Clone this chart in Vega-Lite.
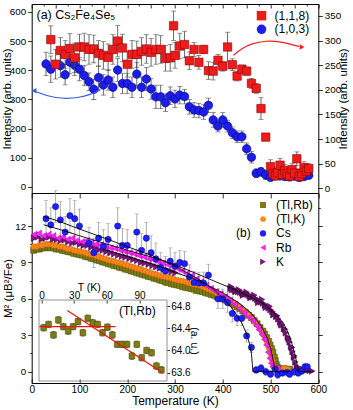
{
"$schema":"https://vega.github.io/schema/vega-lite/v6.json",
"width":286.6,"height":379,
"autosize":{"type":"none"},
"padding":{"left":31.7,"top":4,"right":34.7,"bottom":27},
"background":"white",
"config":{
 "font":"Liberation Sans",
 "view":{"stroke":"#000","strokeWidth":1},
 "axis":{"labelFont":"Liberation Sans","titleFont":"Liberation Sans","labelFontSize":9.8,"titleFontSize":11.5,"titleFontWeight":"normal","labelColor":"#000","titleColor":"#000","tickColor":"#000","domainColor":"#000","grid":false,"labelOverlap":false,"labelFlush":false,"tickWidth":0.8},
 "legend":{"labelFont":"Liberation Sans","titleFont":"Liberation Sans","labelFontSize":12,"titleFontSize":12,"titleFontWeight":"normal","labelColor":"#000","titleColor":"#000","symbolStrokeWidth":0}
},
"datasets":{
 "topBlue":[{"T":30,"v":422,"e":40},{"T":40,"v":404,"e":45},{"T":60,"v":416,"e":40},{"T":70,"v":385,"e":35},{"T":80,"v":428,"e":40},{"T":90,"v":417,"e":35},{"T":100,"v":404,"e":40},{"T":110,"v":382,"e":35},{"T":120,"v":361,"e":30},{"T":130,"v":335,"e":35},{"T":140,"v":375,"e":40},{"T":150,"v":350,"e":35},{"T":160,"v":367,"e":35},{"T":170,"v":342,"e":35},{"T":180,"v":401,"e":40},{"T":190,"v":355,"e":35},{"T":200,"v":355,"e":35},{"T":210,"v":342,"e":35},{"T":220,"v":387,"e":40},{"T":230,"v":342,"e":35},{"T":240,"v":370,"e":40},{"T":250,"v":336,"e":35},{"T":260,"v":309,"e":40},{"T":270,"v":309,"e":40},{"T":280,"v":289,"e":30},{"T":290,"v":313,"e":30},{"T":300,"v":302,"e":30},{"T":310,"v":315,"e":30},{"T":320,"v":310,"e":25},{"T":330,"v":275,"e":25},{"T":340,"v":264,"e":25},{"T":350,"v":262,"e":25},{"T":360,"v":257,"e":25},{"T":370,"v":280,"e":25},{"T":380,"v":230,"e":25},{"T":390,"v":209,"e":20},{"T":400,"v":230,"e":25},{"T":410,"v":209,"e":20},{"T":420,"v":186,"e":20},{"T":430,"v":172,"e":20},{"T":440,"v":172,"e":20},{"T":450,"v":131,"e":20},{"T":460,"v":102,"e":20},{"T":470,"v":47,"e":15},{"T":480,"v":52,"e":15},{"T":490,"v":41,"e":15},{"T":500,"v":33,"e":12},{"T":510,"v":47,"e":12},{"T":520,"v":38,"e":12},{"T":530,"v":36,"e":12},{"T":540,"v":35,"e":12},{"T":550,"v":38,"e":12},{"T":560,"v":33,"e":12},{"T":570,"v":36,"e":12},{"T":580,"v":40,"e":12}],
 "topRed":[{"T":40,"v":302,"e":28},{"T":50,"v":252,"e":30},{"T":60,"v":280,"e":26},{"T":70,"v":272,"e":28},{"T":80,"v":284,"e":30},{"T":90,"v":265,"e":30},{"T":100,"v":287,"e":26},{"T":110,"v":287,"e":28},{"T":120,"v":282,"e":30},{"T":130,"v":283,"e":28},{"T":140,"v":274,"e":26},{"T":150,"v":270,"e":28},{"T":160,"v":266,"e":27},{"T":170,"v":282,"e":30},{"T":180,"v":299,"e":32},{"T":190,"v":285,"e":28},{"T":200,"v":252,"e":26},{"T":210,"v":272,"e":28},{"T":220,"v":272,"e":27},{"T":230,"v":278,"e":28},{"T":240,"v":283,"e":29},{"T":250,"v":276,"e":28},{"T":260,"v":282,"e":30},{"T":270,"v":282,"e":28},{"T":280,"v":264,"e":26},{"T":290,"v":265,"e":27},{"T":297,"v":330,"e":30},{"T":300,"v":270,"e":26},{"T":310,"v":289,"e":26},{"T":320,"v":292,"e":27},{"T":330,"v":259,"e":18},{"T":340,"v":282,"e":14},{"T":350,"v":256,"e":14},{"T":360,"v":282,"e":8},{"T":370,"v":239,"e":18},{"T":380,"v":238,"e":18},{"T":390,"v":260,"e":12},{"T":400,"v":248,"e":10},{"T":410,"v":287,"e":30},{"T":420,"v":251,"e":12},{"T":430,"v":228,"e":10},{"T":440,"v":242,"e":8},{"T":450,"v":238,"e":8},{"T":460,"v":213,"e":10},{"T":470,"v":203,"e":10},{"T":480,"v":162,"e":22},{"T":490,"v":104,"e":6},{"T":500,"v":44,"e":14},{"T":505,"v":30,"e":12},{"T":510,"v":26,"e":10},{"T":515,"v":32,"e":12},{"T":520,"v":47,"e":14},{"T":525,"v":28,"e":10},{"T":530,"v":36,"e":12},{"T":535,"v":30,"e":10},{"T":540,"v":25,"e":10},{"T":545,"v":38,"e":12},{"T":550,"v":31,"e":10},{"T":555,"v":60,"e":14},{"T":560,"v":24,"e":10},{"T":565,"v":30,"e":10},{"T":570,"v":42,"e":12},{"T":575,"v":35,"e":10},{"T":580,"v":40,"e":10}],
 "arrowBlue":[{"T":143,"v":332},{"T":120,"v":315},{"T":100,"v":307},{"T":73,"v":303},{"T":50,"v":306},{"T":30,"v":314},{"T":10,"v":326}],
 "arrowRed":[{"T":422,"v":270},{"T":440,"v":284},{"T":460,"v":294},{"T":490,"v":300},{"T":520,"v":298},{"T":545,"v":292},{"T":560,"v":288}],
 "bot":[
{"s":"(Tl,Rb)","T":4,"v":10.0},{"s":"(Tl,Rb)","T":10,"v":10.1},{"s":"(Tl,Rb)","T":16,"v":10.1},{"s":"(Tl,Rb)","T":22,"v":10.2},{"s":"(Tl,Rb)","T":28,"v":10.2},{"s":"(Tl,Rb)","T":34,"v":10.3},{"s":"(Tl,Rb)","T":40,"v":10.2},{"s":"(Tl,Rb)","T":46,"v":10.2},{"s":"(Tl,Rb)","T":52,"v":10.1},{"s":"(Tl,Rb)","T":58,"v":10.1},{"s":"(Tl,Rb)","T":64,"v":10.0},{"s":"(Tl,Rb)","T":70,"v":9.95},{"s":"(Tl,Rb)","T":76,"v":9.9},{"s":"(Tl,Rb)","T":82,"v":9.85},{"s":"(Tl,Rb)","T":88,"v":9.75},{"s":"(Tl,Rb)","T":94,"v":9.7},{"s":"(Tl,Rb)","T":100,"v":9.65},{"s":"(Tl,Rb)","T":106,"v":9.6},{"s":"(Tl,Rb)","T":112,"v":9.5},{"s":"(Tl,Rb)","T":118,"v":9.45},{"s":"(Tl,Rb)","T":124,"v":9.35},{"s":"(Tl,Rb)","T":130,"v":9.3},{"s":"(Tl,Rb)","T":136,"v":9.2},{"s":"(Tl,Rb)","T":142,"v":9.15},{"s":"(Tl,Rb)","T":148,"v":9.05},{"s":"(Tl,Rb)","T":154,"v":9.0},{"s":"(Tl,Rb)","T":160,"v":8.9},{"s":"(Tl,Rb)","T":166,"v":8.85},{"s":"(Tl,Rb)","T":172,"v":8.75},{"s":"(Tl,Rb)","T":178,"v":8.7},{"s":"(Tl,Rb)","T":184,"v":8.6},{"s":"(Tl,Rb)","T":190,"v":8.55},{"s":"(Tl,Rb)","T":196,"v":8.45},{"s":"(Tl,Rb)","T":202,"v":8.4},{"s":"(Tl,Rb)","T":208,"v":8.3},{"s":"(Tl,Rb)","T":214,"v":8.25},{"s":"(Tl,Rb)","T":220,"v":8.15},{"s":"(Tl,Rb)","T":226,"v":8.1},{"s":"(Tl,Rb)","T":232,"v":8.0},{"s":"(Tl,Rb)","T":238,"v":7.95},{"s":"(Tl,Rb)","T":244,"v":7.85},{"s":"(Tl,Rb)","T":250,"v":7.8},{"s":"(Tl,Rb)","T":256,"v":7.7},{"s":"(Tl,Rb)","T":262,"v":7.65},{"s":"(Tl,Rb)","T":268,"v":7.55},{"s":"(Tl,Rb)","T":274,"v":7.5},{"s":"(Tl,Rb)","T":280,"v":7.4},{"s":"(Tl,Rb)","T":286,"v":7.35},{"s":"(Tl,Rb)","T":292,"v":7.25},{"s":"(Tl,Rb)","T":298,"v":7.2},{"s":"(Tl,Rb)","T":304,"v":7.15},{"s":"(Tl,Rb)","T":310,"v":7.1},{"s":"(Tl,Rb)","T":316,"v":7.0},{"s":"(Tl,Rb)","T":322,"v":6.95},{"s":"(Tl,Rb)","T":328,"v":6.9},{"s":"(Tl,Rb)","T":334,"v":6.85},{"s":"(Tl,Rb)","T":340,"v":6.8},{"s":"(Tl,Rb)","T":346,"v":6.7},{"s":"(Tl,Rb)","T":352,"v":6.65},{"s":"(Tl,Rb)","T":358,"v":6.6},{"s":"(Tl,Rb)","T":364,"v":6.5},{"s":"(Tl,Rb)","T":370,"v":6.45},{"s":"(Tl,Rb)","T":376,"v":6.35},{"s":"(Tl,Rb)","T":382,"v":6.3},{"s":"(Tl,Rb)","T":388,"v":6.2},{"s":"(Tl,Rb)","T":394,"v":6.1},{"s":"(Tl,Rb)","T":400,"v":6.0},{"s":"(Tl,Rb)","T":406,"v":5.9},{"s":"(Tl,Rb)","T":412,"v":5.75},{"s":"(Tl,Rb)","T":418,"v":5.65},{"s":"(Tl,Rb)","T":424,"v":5.5},{"s":"(Tl,Rb)","T":430,"v":5.35},{"s":"(Tl,Rb)","T":436,"v":5.2},{"s":"(Tl,Rb)","T":442,"v":5.0},{"s":"(Tl,Rb)","T":448,"v":4.85},{"s":"(Tl,Rb)","T":454,"v":4.65},{"s":"(Tl,Rb)","T":460,"v":4.45},{"s":"(Tl,Rb)","T":466,"v":4.2},{"s":"(Tl,Rb)","T":472,"v":3.95},{"s":"(Tl,Rb)","T":478,"v":3.65},{"s":"(Tl,Rb)","T":484,"v":3.35},{"s":"(Tl,Rb)","T":488,"v":3.1},{"s":"(Tl,Rb)","T":492,"v":2.8},{"s":"(Tl,Rb)","T":496,"v":2.5},{"s":"(Tl,Rb)","T":499,"v":2.2},{"s":"(Tl,Rb)","T":502,"v":1.9},{"s":"(Tl,Rb)","T":505,"v":1.6},{"s":"(Tl,Rb)","T":508,"v":1.2},{"s":"(Tl,Rb)","T":510,"v":0.9},{"s":"(Tl,Rb)","T":512,"v":0.6},{"s":"(Tl,Rb)","T":514,"v":0.4},{"s":"(Tl,Rb)","T":517,"v":0.25},{"s":"(Tl,Rb)","T":522,"v":0.2},{"s":"(Tl,Rb)","T":528,"v":0.25},{"s":"(Tl,Rb)","T":534,"v":0.2},{"s":"(Tl,Rb)","T":540,"v":0.2},
{"s":"(Tl,K)","T":4,"v":10.3},{"s":"(Tl,K)","T":10,"v":10.3},{"s":"(Tl,K)","T":16,"v":10.4},{"s":"(Tl,K)","T":22,"v":10.4},{"s":"(Tl,K)","T":28,"v":10.5},{"s":"(Tl,K)","T":34,"v":10.5},{"s":"(Tl,K)","T":40,"v":10.5},{"s":"(Tl,K)","T":46,"v":10.4},{"s":"(Tl,K)","T":52,"v":10.4},{"s":"(Tl,K)","T":58,"v":10.3},{"s":"(Tl,K)","T":64,"v":10.3},{"s":"(Tl,K)","T":70,"v":10.2},{"s":"(Tl,K)","T":76,"v":10.1},{"s":"(Tl,K)","T":82,"v":10.1},{"s":"(Tl,K)","T":88,"v":10.0},{"s":"(Tl,K)","T":94,"v":9.95},{"s":"(Tl,K)","T":100,"v":9.9},{"s":"(Tl,K)","T":106,"v":9.85},{"s":"(Tl,K)","T":112,"v":9.8},{"s":"(Tl,K)","T":118,"v":9.7},{"s":"(Tl,K)","T":124,"v":9.65},{"s":"(Tl,K)","T":130,"v":9.6},{"s":"(Tl,K)","T":136,"v":9.5},{"s":"(Tl,K)","T":142,"v":9.45},{"s":"(Tl,K)","T":148,"v":9.35},{"s":"(Tl,K)","T":154,"v":9.3},{"s":"(Tl,K)","T":160,"v":9.2},{"s":"(Tl,K)","T":166,"v":9.15},{"s":"(Tl,K)","T":172,"v":9.1},{"s":"(Tl,K)","T":178,"v":9.0},{"s":"(Tl,K)","T":184,"v":8.95},{"s":"(Tl,K)","T":190,"v":8.9},{"s":"(Tl,K)","T":196,"v":8.8},{"s":"(Tl,K)","T":202,"v":8.75},{"s":"(Tl,K)","T":208,"v":8.65},{"s":"(Tl,K)","T":214,"v":8.6},{"s":"(Tl,K)","T":220,"v":8.5},{"s":"(Tl,K)","T":226,"v":8.45},{"s":"(Tl,K)","T":232,"v":8.35},{"s":"(Tl,K)","T":238,"v":8.3},{"s":"(Tl,K)","T":244,"v":8.2},{"s":"(Tl,K)","T":250,"v":8.1},{"s":"(Tl,K)","T":256,"v":8.05},{"s":"(Tl,K)","T":262,"v":8.0},{"s":"(Tl,K)","T":268,"v":7.9},{"s":"(Tl,K)","T":274,"v":7.85},{"s":"(Tl,K)","T":280,"v":7.8},{"s":"(Tl,K)","T":286,"v":7.75},{"s":"(Tl,K)","T":292,"v":7.7},{"s":"(Tl,K)","T":298,"v":7.6},{"s":"(Tl,K)","T":304,"v":7.55},{"s":"(Tl,K)","T":310,"v":7.5},{"s":"(Tl,K)","T":316,"v":7.45},{"s":"(Tl,K)","T":322,"v":7.4},{"s":"(Tl,K)","T":328,"v":7.3},{"s":"(Tl,K)","T":334,"v":7.25},{"s":"(Tl,K)","T":340,"v":7.2},{"s":"(Tl,K)","T":346,"v":7.15},{"s":"(Tl,K)","T":352,"v":7.1},{"s":"(Tl,K)","T":358,"v":7.0},{"s":"(Tl,K)","T":364,"v":6.9},{"s":"(Tl,K)","T":370,"v":6.8},{"s":"(Tl,K)","T":376,"v":6.7},{"s":"(Tl,K)","T":382,"v":6.6},{"s":"(Tl,K)","T":388,"v":6.45},{"s":"(Tl,K)","T":394,"v":6.35},{"s":"(Tl,K)","T":400,"v":6.2},{"s":"(Tl,K)","T":406,"v":6.1},{"s":"(Tl,K)","T":412,"v":5.95},{"s":"(Tl,K)","T":418,"v":5.8},{"s":"(Tl,K)","T":424,"v":5.65},{"s":"(Tl,K)","T":430,"v":5.5},{"s":"(Tl,K)","T":436,"v":5.3},{"s":"(Tl,K)","T":442,"v":5.1},{"s":"(Tl,K)","T":448,"v":4.9},{"s":"(Tl,K)","T":454,"v":4.65},{"s":"(Tl,K)","T":460,"v":4.4},{"s":"(Tl,K)","T":466,"v":4.2},{"s":"(Tl,K)","T":472,"v":3.9},{"s":"(Tl,K)","T":478,"v":3.55},{"s":"(Tl,K)","T":482,"v":3.3},{"s":"(Tl,K)","T":486,"v":3.0},{"s":"(Tl,K)","T":490,"v":2.7},{"s":"(Tl,K)","T":493,"v":2.4},{"s":"(Tl,K)","T":496,"v":2.0},{"s":"(Tl,K)","T":498,"v":1.7},{"s":"(Tl,K)","T":500,"v":1.5},{"s":"(Tl,K)","T":502,"v":1.2},{"s":"(Tl,K)","T":504,"v":0.9},{"s":"(Tl,K)","T":506,"v":0.5},{"s":"(Tl,K)","T":508,"v":0.3},{"s":"(Tl,K)","T":512,"v":0.2},{"s":"(Tl,K)","T":518,"v":0.25},{"s":"(Tl,K)","T":524,"v":0.2},{"s":"(Tl,K)","T":530,"v":0.3},{"s":"(Tl,K)","T":536,"v":0.2},
{"s":"K","T":5,"v":11.0},{"s":"K","T":13,"v":11.1},{"s":"K","T":21,"v":10.9},{"s":"K","T":29,"v":11.0},{"s":"K","T":37,"v":11.1},{"s":"K","T":45,"v":10.9},{"s":"K","T":53,"v":10.9},{"s":"K","T":61,"v":10.8},{"s":"K","T":69,"v":10.85},{"s":"K","T":77,"v":10.7},{"s":"K","T":85,"v":10.6},{"s":"K","T":93,"v":10.65},{"s":"K","T":101,"v":10.5},{"s":"K","T":109,"v":10.4},{"s":"K","T":117,"v":10.4},{"s":"K","T":125,"v":10.25},{"s":"K","T":133,"v":10.2},{"s":"K","T":141,"v":10.05},{"s":"K","T":149,"v":10.0},{"s":"K","T":157,"v":9.9},{"s":"K","T":165,"v":9.8},{"s":"K","T":173,"v":9.7},{"s":"K","T":181,"v":9.6},{"s":"K","T":189,"v":9.5},{"s":"K","T":197,"v":9.45},{"s":"K","T":205,"v":9.35},{"s":"K","T":213,"v":9.25},{"s":"K","T":221,"v":9.15},{"s":"K","T":229,"v":9.0},{"s":"K","T":237,"v":8.95},{"s":"K","T":245,"v":8.85},{"s":"K","T":253,"v":8.75},{"s":"K","T":261,"v":8.65},{"s":"K","T":269,"v":8.55},{"s":"K","T":277,"v":8.45},{"s":"K","T":285,"v":8.35},{"s":"K","T":293,"v":8.25},{"s":"K","T":301,"v":8.15},{"s":"K","T":416,"v":6.85},{"s":"K","T":418,"v":7.0},{"s":"K","T":420,"v":6.75},{"s":"K","T":424,"v":6.8},{"s":"K","T":426,"v":6.6},{"s":"K","T":428,"v":6.65},{"s":"K","T":432,"v":6.6},{"s":"K","T":434,"v":6.75},{"s":"K","T":436,"v":6.55},{"s":"K","T":440,"v":6.5},{"s":"K","T":442,"v":6.3},{"s":"K","T":444,"v":6.45},{"s":"K","T":448,"v":6.4},{"s":"K","T":450,"v":6.55},{"s":"K","T":452,"v":6.35},{"s":"K","T":456,"v":6.25},{"s":"K","T":458,"v":6.1},{"s":"K","T":460,"v":6.2},{"s":"K","T":464,"v":6.15},{"s":"K","T":466,"v":6.3},{"s":"K","T":468,"v":6.05},{"s":"K","T":472,"v":5.95},{"s":"K","T":474,"v":5.7},{"s":"K","T":476,"v":5.85},{"s":"K","T":480,"v":5.75},{"s":"K","T":482,"v":5.95},{"s":"K","T":484,"v":5.65},{"s":"K","T":488,"v":5.5},{"s":"K","T":490,"v":5.3},{"s":"K","T":492,"v":5.4},{"s":"K","T":496,"v":5.25},{"s":"K","T":498,"v":5.4},{"s":"K","T":500,"v":5.1},{"s":"K","T":504,"v":4.95},{"s":"K","T":506,"v":4.7},{"s":"K","T":508,"v":4.75},{"s":"K","T":512,"v":4.55},{"s":"K","T":514,"v":4.6},{"s":"K","T":516,"v":4.35},{"s":"K","T":520,"v":4.1},{"s":"K","T":522,"v":3.9},{"s":"K","T":524,"v":3.85},{"s":"K","T":528,"v":3.55},{"s":"K","T":530,"v":3.5},{"s":"K","T":532,"v":3.2},{"s":"K","T":536,"v":2.85},{"s":"K","T":538,"v":2.7},{"s":"K","T":540,"v":2.45},{"s":"K","T":543,"v":2.05},{"s":"K","T":545,"v":2.0},{"s":"K","T":546,"v":1.65},{"s":"K","T":549,"v":1.2},{"s":"K","T":550,"v":1.3},{"s":"K","T":552,"v":0.8},{"s":"K","T":555,"v":0.45},{"s":"K","T":558,"v":0.25},{"s":"K","T":562,"v":0.15},{"s":"K","T":567,"v":0.2},{"s":"K","T":572,"v":0.1},{"s":"K","T":577,"v":0.15},{"s":"K","T":582,"v":0.1},{"s":"K","T":587,"v":0.05},
{"s":"Rb","T":5,"v":11.3},{"s":"Rb","T":15,"v":11.4},{"s":"Rb","T":25,"v":11.2},{"s":"Rb","T":35,"v":11.3},{"s":"Rb","T":45,"v":11.2},{"s":"Rb","T":55,"v":11.0},{"s":"Rb","T":65,"v":11.1},{"s":"Rb","T":75,"v":10.9},{"s":"Rb","T":85,"v":11.0},{"s":"Rb","T":95,"v":10.8},{"s":"Rb","T":105,"v":10.7},{"s":"Rb","T":115,"v":10.8},{"s":"Rb","T":125,"v":10.6},{"s":"Rb","T":135,"v":10.5},{"s":"Rb","T":145,"v":10.45},{"s":"Rb","T":155,"v":10.3},{"s":"Rb","T":165,"v":10.2},{"s":"Rb","T":175,"v":10.15},{"s":"Rb","T":185,"v":10.0},{"s":"Rb","T":195,"v":9.9},{"s":"Rb","T":205,"v":9.8},{"s":"Rb","T":215,"v":9.7},{"s":"Rb","T":225,"v":9.55},{"s":"Rb","T":235,"v":9.45},{"s":"Rb","T":245,"v":9.3},{"s":"Rb","T":255,"v":9.2},{"s":"Rb","T":265,"v":9.05},{"s":"Rb","T":275,"v":8.95},{"s":"Rb","T":285,"v":8.8},{"s":"Rb","T":295,"v":8.65},{"s":"Rb","T":305,"v":8.5},{"s":"Rb","T":315,"v":8.3},{"s":"Rb","T":325,"v":8.1},{"s":"Rb","T":335,"v":7.9},{"s":"Rb","T":345,"v":7.65},{"s":"Rb","T":355,"v":7.4},{"s":"Rb","T":365,"v":7.1},{"s":"Rb","T":375,"v":6.85},{"s":"Rb","T":385,"v":6.6},{"s":"Rb","T":395,"v":6.4},{"s":"Rb","T":405,"v":6.15},{"s":"Rb","T":415,"v":5.9},{"s":"Rb","T":425,"v":5.55},{"s":"Rb","T":435,"v":5.2},{"s":"Rb","T":445,"v":4.85},{"s":"Rb","T":455,"v":4.5},{"s":"Rb","T":463,"v":4.2},{"s":"Rb","T":470,"v":3.8},{"s":"Rb","T":476,"v":3.45},{"s":"Rb","T":482,"v":3.05},{"s":"Rb","T":487,"v":2.65},{"s":"Rb","T":491,"v":2.2},{"s":"Rb","T":495,"v":1.6},{"s":"Rb","T":498,"v":1.1},{"s":"Rb","T":501,"v":0.7},{"s":"Rb","T":504,"v":0.4},{"s":"Rb","T":508,"v":0.25},{"s":"Rb","T":515,"v":0.2},
{"s":"Cs","T":30,"v":12.6,"e":1.5},{"s":"Cs","T":40,"v":12.1,"e":1.4},{"s":"Cs","T":50,"v":13.6,"e":1.3},{"s":"Cs","T":60,"v":12.5,"e":1.5},{"s":"Cs","T":70,"v":11.5,"e":1.3},{"s":"Cs","T":80,"v":12.85,"e":1.4},{"s":"Cs","T":90,"v":12.6,"e":1.5},{"s":"Cs","T":100,"v":12.0,"e":1.4},{"s":"Cs","T":120,"v":10.6,"e":1.3},{"s":"Cs","T":130,"v":9.8,"e":1.2},{"s":"Cs","T":140,"v":11.0,"e":1.3},{"s":"Cs","T":150,"v":10.3,"e":1.4},{"s":"Cs","T":160,"v":10.9,"e":1.3},{"s":"Cs","T":180,"v":12.0,"e":1.5},{"s":"Cs","T":190,"v":10.4,"e":1.4},{"s":"Cs","T":200,"v":10.4,"e":1.3},{"s":"Cs","T":220,"v":11.5,"e":1.5},{"s":"Cs","T":230,"v":10.0,"e":1.4},{"s":"Cs","T":240,"v":11.0,"e":1.3},{"s":"Cs","T":250,"v":9.8,"e":1.4},{"s":"Cs","T":260,"v":9.3,"e":1.3},{"s":"Cs","T":270,"v":8.6,"e":1.2},{"s":"Cs","T":280,"v":8.3,"e":1.2},{"s":"Cs","T":290,"v":9.1,"e":1.1},{"s":"Cs","T":300,"v":8.7,"e":1.1},{"s":"Cs","T":310,"v":9.0,"e":1.0},{"s":"Cs","T":320,"v":8.9,"e":1.0},{"s":"Cs","T":330,"v":7.8,"e":1.0},{"s":"Cs","T":340,"v":7.35,"e":0.9},{"s":"Cs","T":350,"v":7.3,"e":0.9},{"s":"Cs","T":360,"v":7.3,"e":0.9},{"s":"Cs","T":370,"v":7.95,"e":0.9},{"s":"Cs","T":390,"v":6.0,"e":0.8},{"s":"Cs","T":400,"v":6.0,"e":0.8},{"s":"Cs","T":410,"v":5.7,"e":0.8},{"s":"Cs","T":420,"v":4.8,"e":0.7},{"s":"Cs","T":430,"v":4.4,"e":0.6},{"s":"Cs","T":440,"v":4.4,"e":0.6},{"s":"Cs","T":450,"v":2.95,"e":0.5},{"s":"Cs","T":460,"v":2.0,"e":0.4},{"s":"Cs","T":470,"v":0.15,"e":0.3},{"s":"Cs","T":480,"v":0.3,"e":0.3},{"s":"Cs","T":490,"v":0.0,"e":0.3},{"s":"Cs","T":500,"v":-0.2,"e":0.3},{"s":"Cs","T":510,"v":0.2,"e":0.3},{"s":"Cs","T":515,"v":-0.25,"e":0.3},{"s":"Cs","T":525,"v":-0.1,"e":0.3},{"s":"Cs","T":535,"v":-0.05,"e":0.3},{"s":"Cs","T":540,"v":-0.2,"e":0.3},{"s":"Cs","T":550,"v":0.0,"e":0.3},{"s":"Cs","T":558,"v":-0.1,"e":0.3},{"s":"Cs","T":565,"v":0.05,"e":0.3},{"s":"Cs","T":572,"v":0.4,"e":0.3},{"s":"Cs","T":577,"v":0.4,"e":0.3}
 ],
 "fits":[
{"f":"Cs","T":25,"v":12.8},{"f":"Cs","T":60,"v":12.35},{"f":"Cs","T":100,"v":11.75},{"f":"Cs","T":160,"v":10.9},{"f":"Cs","T":200,"v":10.3},{"f":"Cs","T":250,"v":9.6},{"f":"Cs","T":300,"v":8.7},{"f":"Cs","T":350,"v":7.6},{"f":"Cs","T":380,"v":6.8},{"f":"Cs","T":400,"v":6.1},{"f":"Cs","T":420,"v":5.2},{"f":"Cs","T":440,"v":4.0},{"f":"Cs","T":450,"v":3.1},{"f":"Cs","T":456,"v":2.3},{"f":"Cs","T":460,"v":1.5},{"f":"Cs","T":462,"v":0.6},{"f":"Cs","T":463,"v":0.0},{"f":"Cs","T":505,"v":0.0},
{"f":"K","T":25,"v":12.1},{"f":"K","T":60,"v":11.7},{"f":"K","T":100,"v":11.2},{"f":"K","T":150,"v":10.6},{"f":"K","T":200,"v":10.0},{"f":"K","T":250,"v":9.45},{"f":"K","T":300,"v":8.8},{"f":"K","T":350,"v":8.0},{"f":"K","T":395,"v":7.25},{"f":"K","T":420,"v":6.85},{"f":"K","T":450,"v":6.3},{"f":"K","T":485,"v":5.6},{"f":"K","T":510,"v":4.75},{"f":"K","T":527,"v":4.0},{"f":"K","T":537,"v":3.2},{"f":"K","T":544,"v":2.4},{"f":"K","T":550,"v":1.6},{"f":"K","T":554,"v":0.9},{"f":"K","T":557,"v":0.3},{"f":"K","T":558,"v":0.0},{"f":"K","T":590,"v":0.0},
{"f":"Rb","T":150,"v":10.1},{"f":"Rb","T":200,"v":9.5},{"f":"Rb","T":250,"v":8.9},{"f":"Rb","T":300,"v":8.2},{"f":"Rb","T":345,"v":7.55},{"f":"Rb","T":400,"v":6.5},{"f":"Rb","T":436,"v":5.6},{"f":"Rb","T":460,"v":4.8},{"f":"Rb","T":480,"v":3.8},{"f":"Rb","T":493,"v":2.8},{"f":"Rb","T":501,"v":1.8},{"f":"Rb","T":506,"v":0.9},{"f":"Rb","T":508,"v":0.3},{"f":"Rb","T":509,"v":0.0},{"f":"Rb","T":540,"v":0.0}
 ],
 "inset":[{"T":2,"v":64.41,"e":0.06},{"T":6.5,"v":64.47,"e":0.06},{"T":11,"v":64.28,"e":0.06},{"T":15.5,"v":64.55,"e":0.06},{"T":20,"v":64.43,"e":0.06},{"T":24.5,"v":64.35,"e":0.06},{"T":29,"v":64.43,"e":0.06},{"T":33.5,"v":64.52,"e":0.06},{"T":38,"v":64.32,"e":0.06},{"T":42.5,"v":64.58,"e":0.06},{"T":47,"v":64.50,"e":0.06},{"T":51.5,"v":64.47,"e":0.06},{"T":56,"v":64.32,"e":0.06},{"T":60.5,"v":64.42,"e":0.06},{"T":65,"v":64.28,"e":0.06},{"T":69.5,"v":64.11,"e":0.06},{"T":74,"v":64.11,"e":0.06},{"T":78.5,"v":64.11,"e":0.06},{"T":83,"v":63.90,"e":0.06},{"T":87.5,"v":64.11,"e":0.06},{"T":92,"v":63.87,"e":0.06},{"T":96.5,"v":64.00,"e":0.06},{"T":101,"v":63.96,"e":0.06},{"T":105.5,"v":63.72,"e":0.06},{"T":110,"v":63.65,"e":0.06}],
 "insetLines":[{"l":"h","T":-2,"v":64.43},{"l":"h","T":68,"v":64.43},{"l":"d","T":23.7,"v":64.72},{"l":"d","T":111.9,"v":63.59}]
},
"layer":[
 {"layer":[
  {"layer":[
   {"data":{"name":"topBlue"},"mark":{"type":"errorbar","ticks":{"size":5},"color":"#444","thickness":0.8},
    "encoding":{
     "x":{"field":"T","type":"quantitative","scale":{"domain":[0,600],"nice":false,"zero":false},
      "axis":{"orient":"bottom","offset":-190,"values":[0,25,50,75,100,125,150,175,200,225,250,275,300,325,350,375,400,425,450,475,500,525,550,575,600],"labels":false,"title":null,"domain":true,"tickSize":{"condition":{"test":"datum.value % 50 === 0","value":5},"value":3}}},
     "y":{"field":"v","type":"quantitative","scale":{"domain":[-20.6,627.4],"range":[189,0],"nice":false,"zero":false},
      "axis":{"orient":"left","values":[0,50,100,150,200,250,300,350,400,450,500,550,600],"labelExpr":"datum.value % 100 === 0 ? datum.label : ''","tickSize":{"condition":{"test":"datum.value % 100 === 0","value":4},"value":2},"labelPadding":2,"domain":false,"title":"Intensity (arb. units)","titleX":-24,"titleBaseline":"middle"}},
     "yError":{"field":"e"}}},
   {"data":{"name":"topBlue"},"mark":{"type":"point","filled":true,"size":72,"opacity":1,"stroke":"#00008a","strokeWidth":0.6},
    "encoding":{"x":{"field":"T","type":"quantitative"},"y":{"field":"v","type":"quantitative"},
     "color":{"datum":"(1,0,3)","scale":{"domain":["(1,1,8)","(1,0,3)"],"range":["#ee1b1b","#1d1de8"]},"legend":{"orient":"none","legendX":223.8,"legendY":5.7,"title":null,"symbolSize":90,"rowPadding":1.6,"labelOffset":7}},
     "shape":{"datum":"(1,0,3)","scale":{"domain":["(1,1,8)","(1,0,3)"],"range":["square","circle"]},"legend":{"orient":"none","legendX":223.8,"legendY":5.7,"title":null,"symbolSize":90,"rowPadding":1.6,"labelOffset":7}}}},
   {"data":{"name":"arrowBlue"},"mark":{"type":"line","interpolate":"basis","color":"#3b5ee6","strokeWidth":1.2},
    "encoding":{"x":{"field":"T","type":"quantitative"},"y":{"field":"v","type":"quantitative"}}},
   {"data":{"values":[{}]},"mark":{"type":"point","shape":"triangle-left","filled":true,"size":30,"color":"#3b5ee6","opacity":1},
    "encoding":{"x":{"datum":5},"y":{"datum":330}}},
   {"data":{"values":[{}]},"mark":{"type":"text","text":"(a)  Cs₂Fe₄Se₅","align":"left","baseline":"middle","fontSize":12.5,"font":"Liberation Sans","color":"#000"},
    "encoding":{"x":{"datum":10},"y":{"datum":588}}}
  ]},
  {"layer":[
   {"data":{"name":"topRed"},"mark":{"type":"errorbar","ticks":{"size":5},"color":"#444","thickness":0.8},
    "encoding":{"x":{"field":"T","type":"quantitative"},
     "y":{"field":"v","type":"quantitative","scale":{"domain":[-9.5,374.3],"range":[189,0],"nice":false,"zero":false},
      "axis":{"orient":"right","values":[0,25,50,75,100,125,150,175,200,225,250,275,300,325,350],"labelExpr":"datum.value % 50 === 0 ? datum.label : ''","tickSize":{"condition":{"test":"datum.value % 50 === 0","value":4},"value":2},"labelPadding":2,"domain":false,"title":"Intensity (arb. units)","titleAngle":270,"titleX":25,"titleBaseline":"middle"}},
     "yError":{"field":"e"}}},
   {"data":{"name":"topRed"},"mark":{"type":"point","filled":true,"size":70,"opacity":1,"stroke":"#900000","strokeWidth":0.6},
    "encoding":{"x":{"field":"T","type":"quantitative"},"y":{"field":"v","type":"quantitative"},
     "color":{"datum":"(1,1,8)","scale":{"domain":["(1,1,8)","(1,0,3)"],"range":["#ee1b1b","#1d1de8"]},"legend":{"orient":"none","legendX":223.8,"legendY":5.7,"title":null,"symbolSize":90,"rowPadding":1.6,"labelOffset":7}},
     "shape":{"datum":"(1,1,8)","scale":{"domain":["(1,1,8)","(1,0,3)"],"range":["square","circle"]},"legend":{"orient":"none","legendX":223.8,"legendY":5.7,"title":null,"symbolSize":90,"rowPadding":1.6,"labelOffset":7}}}},
   {"data":{"name":"arrowRed"},"mark":{"type":"line","interpolate":"basis","color":"#ee2020","strokeWidth":1.2},
    "encoding":{"x":{"field":"T","type":"quantitative"},"y":{"field":"v","type":"quantitative"}}},
   {"data":{"values":[{}]},"mark":{"type":"point","shape":"triangle-right","filled":true,"size":30,"color":"#ee2020","opacity":1},
    "encoding":{"x":{"datum":566},"y":{"datum":287}}}
  ]}
 ],
 "resolve":{"scale":{"y":"independent"}}},
 {"data":{"name":"bot"},
  "layer":[
   {"transform":[{"filter":"datum.s === 'Cs'"}],"mark":{"type":"errorbar","ticks":{"size":4},"color":"#8a8a8a","thickness":0.7},
    "encoding":{
     "x":{"field":"T","type":"quantitative","scale":{"domain":[0,600],"nice":false,"zero":false},
      "axis":{"orient":"bottom","values":[0,25,50,75,100,125,150,175,200,225,250,275,300,325,350,375,400,425,450,475,500,525,550,575,600],"labelExpr":"datum.value % 50 === 0 ? datum.label : ''","tickSize":{"condition":{"test":"datum.value % 50 === 0","value":-4},"value":-2},"labelPadding":5,"labelFontSize":10,"domain":false,"title":"Temperature (K)","titleFontSize":12,"titlePadding":1}},
     "y":{"field":"v","type":"quantitative","scale":{"domain":[-0.93,14.72],"range":[379,189],"nice":false,"zero":false},
      "axis":{"orient":"left","values":[0,1.5,3,4.5,6,7.5,9,10.5,12,13.5],"labelExpr":"datum.value % 3 === 0 ? datum.label : ''","tickSize":{"condition":{"test":"datum.value % 3 === 0","value":4},"value":2},"labelPadding":2,"domain":false,"title":"M² (μB²/Fe)","titleX":-23,"titleBaseline":"middle"}},
     "yError":{"field":"e"}}},
   {"mark":{"type":"point","filled":true,"opacity":1,"strokeWidth":0.5},
    "encoding":{"x":{"field":"T","type":"quantitative"},"y":{"field":"v","type":"quantitative"},
     "color":{"field":"s","type":"nominal","scale":{"domain":["(Tl,Rb)","(Tl,K)","Cs","Rb","K"],"range":["#7d7d12","#ff8a1c","#1f1fff","#ff22ff","#7b157b"]},"legend":{"orient":"none","legendX":204.3,"legendY":195,"title":"(b)","titleOrient":"left","titlePadding":6,"symbolSize":90,"rowPadding":2.2,"labelOffset":7}},
     "shape":{"field":"s","type":"nominal","scale":{"domain":["(Tl,Rb)","(Tl,K)","Cs","Rb","K"],"range":["square","M-1,0L-0.5,-0.87L0.5,-0.87L1,0L0.5,0.87L-0.5,0.87Z","circle","triangle-left","triangle-right"]},"legend":{"orient":"none","legendX":204.3,"legendY":195,"title":"(b)","titleOrient":"left","titlePadding":6,"symbolSize":90,"rowPadding":2.2,"labelOffset":7}},
     "stroke":{"field":"s","type":"nominal","scale":{"domain":["(Tl,Rb)","(Tl,K)","Cs","Rb","K"],"range":["#45450a","#c25a00","#00008a","#b000b0","#3f003f"]},"legend":null},
     "size":{"field":"s","type":"nominal","scale":{"domain":["(Tl,Rb)","(Tl,K)","Cs","Rb","K"],"range":[36,42,56,48,48]},"legend":null}}},
   {"data":{"name":"fits"},"mark":{"type":"line","color":"#000","strokeWidth":0.9},
    "encoding":{"x":{"field":"T","type":"quantitative"},"y":{"field":"v","type":"quantitative"},"detail":{"field":"f"}}}
  ]},
 {"layer":[
   {"data":{"name":"inset"},"mark":{"type":"errorbar","ticks":{"size":4},"color":"#222","thickness":0.7},
    "encoding":{
     "x":{"field":"T","type":"quantitative","scale":{"domain":[-2.3,115.2],"range":[7.3,135.3],"nice":false,"zero":false},
      "axis":{"orient":"top","offset":-296,"values":[0,30,60,90],"tickSize":-3,"labelPadding":3,"domain":false,"labelFontSize":10,"title":"T (K)","titleFontSize":10.5,"titleX":57,"titleY":-13,"titleBaseline":"middle"}},
     "y":{"field":"v","type":"quantitative","scale":{"domain":[63.45,64.91],"range":[377,296],"nice":false,"zero":false},
      "axis":{"orient":"right","offset":-151.6,"values":[63.6,64.0,64.4,64.8],"format":".1f","tickSize":3,"labelPadding":1,"domain":false,"labelFontSize":10,"title":"(a. u.)","titleFontSize":10.5,"titleX":27,"titleBaseline":"middle"}},
     "yError":{"field":"e"}}},
   {"data":{"name":"inset"},"mark":{"type":"point","shape":"square","filled":true,"size":34,"opacity":1,"color":"#7d7d12","stroke":"#45450a","strokeWidth":0.5},
    "encoding":{"x":{"field":"T","type":"quantitative"},"y":{"field":"v","type":"quantitative"}}},
   {"data":{"name":"insetLines"},"mark":{"type":"line","color":"#ee1111","strokeWidth":1.2},
    "encoding":{"x":{"field":"T","type":"quantitative"},"y":{"field":"v","type":"quantitative"},"detail":{"field":"l"}}},
   {"data":{"values":[{}]},"mark":{"type":"rect","fillOpacity":0,"stroke":"#777","strokeWidth":0.8},
    "encoding":{"x":{"datum":-2.3},"x2":{"datum":115.2},"y":{"datum":63.45},"y2":{"datum":64.91}}},
   {"data":{"values":[{}]},"mark":{"type":"text","text":"(Tl,Rb)","fontSize":12,"font":"Liberation Sans","color":"#000","align":"center","baseline":"middle"},
    "encoding":{"x":{"datum":88},"y":{"datum":64.71}}}
 ]},
 {"data":{"values":[{}]},"mark":{"type":"point","opacity":0},
  "encoding":{"x":{"datum":0,"type":"quantitative","scale":{"domain":[0,600],"nice":false,"zero":false},
   "axis":{"orient":"top","values":[0,25,50,75,100,125,150,175,200,225,250,275,300,325,350,375,400,425,450,475,500,525,550,575,600],"labels":false,"title":null,"domain":false,"tickSize":{"condition":{"test":"datum.value % 50 === 0","value":-4},"value":-2}}}}},
 {"data":{"values":[{}]},"mark":{"type":"point","opacity":0},
  "encoding":{"y":{"datum":0,"type":"quantitative","scale":{"domain":[-0.93,14.72],"range":[379,189],"nice":false,"zero":false},
   "axis":{"orient":"right","values":[0,1.5,3,4.5,6,7.5,9,10.5,12,13.5],"labels":false,"title":null,"domain":false,"tickSize":{"condition":{"test":"datum.value % 3 === 0","value":4},"value":2}}}}}
],
"resolve":{"scale":{"x":"independent","y":"independent","color":"independent","shape":"independent","stroke":"independent","size":"independent"}}
}
